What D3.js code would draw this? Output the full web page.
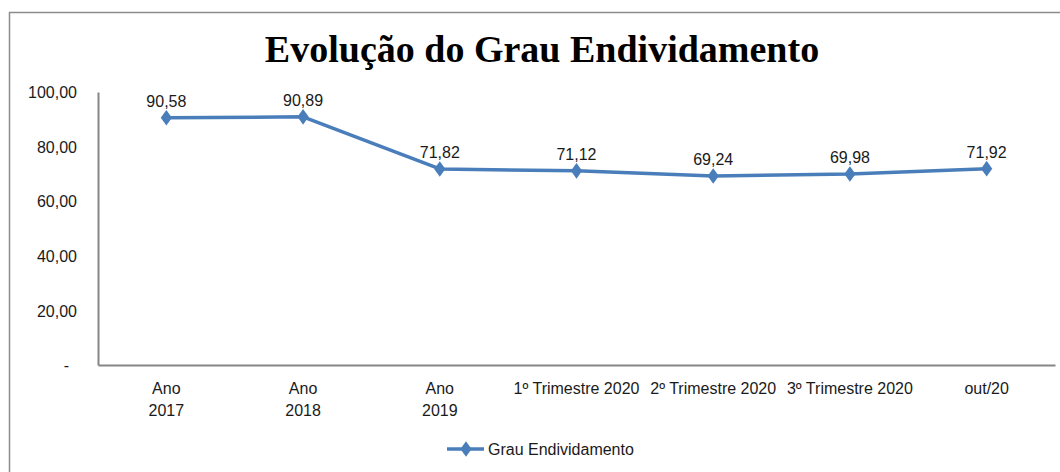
<!DOCTYPE html>
<meta charset="utf-8">
<html>
<head>
<style>
  body { margin:0; background:#fff; }
  svg { display:block; }
  .lbl { font-family: "Liberation Sans", sans-serif; font-size: 16px; fill: #1a1a1a; }
  .title { font-family: "Liberation Serif", serif; font-weight: bold; font-size: 38px; fill: #000; }
</style>
<script src="https://d3js.org/d3.v7.min.js"></script>
</head>
<body>
<svg width="1060" height="472"></svg>
<script>
var categories = [["Ano", "2017"], ["Ano", "2018"], ["Ano", "2019"], ["1º Trimestre 2020"], ["2º Trimestre 2020"], ["3º Trimestre 2020"], ["out/20"]];
var values = [90.58, 90.89, 71.82, 71.12, 69.24, 69.98, 71.92];
var yTicks = [0, 20, 40, 60, 80, 100];
var seriesName = "Grau Endividamento";
var title = "Evolução do Grau Endividamento";

var margin = {top: 92, bottom: 107, left: 98, right: 5};
var width = 1060, height = 472;
var blue = "#4a7ebb";

var svg = d3.select("svg");

// outer chart frame
svg.append("rect")
    .attr("x", 9.5).attr("y", 12.5)
    .attr("width", 1070).attr("height", 480)
    .attr("fill", "none").attr("stroke", "#8c8c8c").attr("stroke-width", 1.5);

svg.append("text")
    .attr("class", "title")
    .attr("x", 542).attr("y", 62)
    .attr("text-anchor", "middle")
    .text(title);

var x = d3.scaleBand()
    .domain(d3.range(values.length))
    .range([margin.left, width - margin.right]);

var y = d3.scaleLinear()
    .domain([0, 100])
    .range([height - margin.bottom, margin.top]);

var fmt = d => d === 0 ? "-" : d3.format(".2f")(d).replace(".", ",");

// y axis
var yAxis = svg.append("g")
    .attr("transform", "translate(" + margin.left + ",0)")
    .call(d3.axisLeft(y).tickValues(yTicks).tickSize(0).tickPadding(21).tickFormat(fmt));
yAxis.select(".domain").attr("stroke", "#868686").attr("stroke-width", 2);
yAxis.selectAll("text").attr("class", "lbl").attr("dy", "0.35em")
    .attr("dx", d => d === 0 ? -8 : 0);

// x axis
var xAxis = svg.append("g")
    .attr("transform", "translate(0," + (height - margin.bottom) + ")")
    .call(d3.axisBottom(x).tickSize(0).tickFormat(""));
xAxis.select(".domain").attr("stroke", "#868686").attr("stroke-width", 2);
xAxis.selectAll(".tick").each(function(d) {
    var t = d3.select(this).append("text")
        .attr("class", "lbl")
        .attr("text-anchor", "middle")
        .attr("y", 29);
    categories[d].forEach((s, i) => {
        t.append("tspan").attr("x", 0).attr("dy", i === 0 ? 0 : 22).text(s);
    });
});

// line
var line = d3.line()
    .x((d, i) => x(i) + x.bandwidth() / 2)
    .y(d => y(d));

svg.append("path")
    .datum(values)
    .attr("fill", "none")
    .attr("stroke", blue)
    .attr("stroke-width", 3.5)
    .attr("stroke-linejoin", "round")
    .attr("d", line);

var diamond = d3.symbol().type(d3.symbolDiamond).size(70);

svg.selectAll(".pt")
    .data(values)
    .enter().append("path")
    .attr("class", "pt")
    .attr("transform", (d, i) => "translate(" + (x(i) + x.bandwidth() / 2) + "," + y(d) + ") scale(1.25,1)")
    .attr("d", diamond)
    .attr("fill", blue);

svg.selectAll(".val")
    .data(values)
    .enter().append("text")
    .attr("class", "lbl")
    .attr("x", (d, i) => x(i) + x.bandwidth() / 2)
    .attr("y", d => y(d) - 11)
    .attr("text-anchor", "middle")
    .text(d => fmt(d));

// legend
var lg = svg.append("g").attr("transform", "translate(447,449)");
lg.append("line").attr("x1", 0).attr("x2", 37).attr("y1", 0).attr("y2", 0)
    .attr("stroke", blue).attr("stroke-width", 3.5);
lg.append("path").attr("d", diamond).attr("transform", "translate(19,0) scale(1.25,1)").attr("fill", blue);
lg.append("text").attr("class", "lbl").attr("x", 41).attr("y", 0).attr("dy", "0.35em").text(seriesName);
</script>
</body>
</html>
